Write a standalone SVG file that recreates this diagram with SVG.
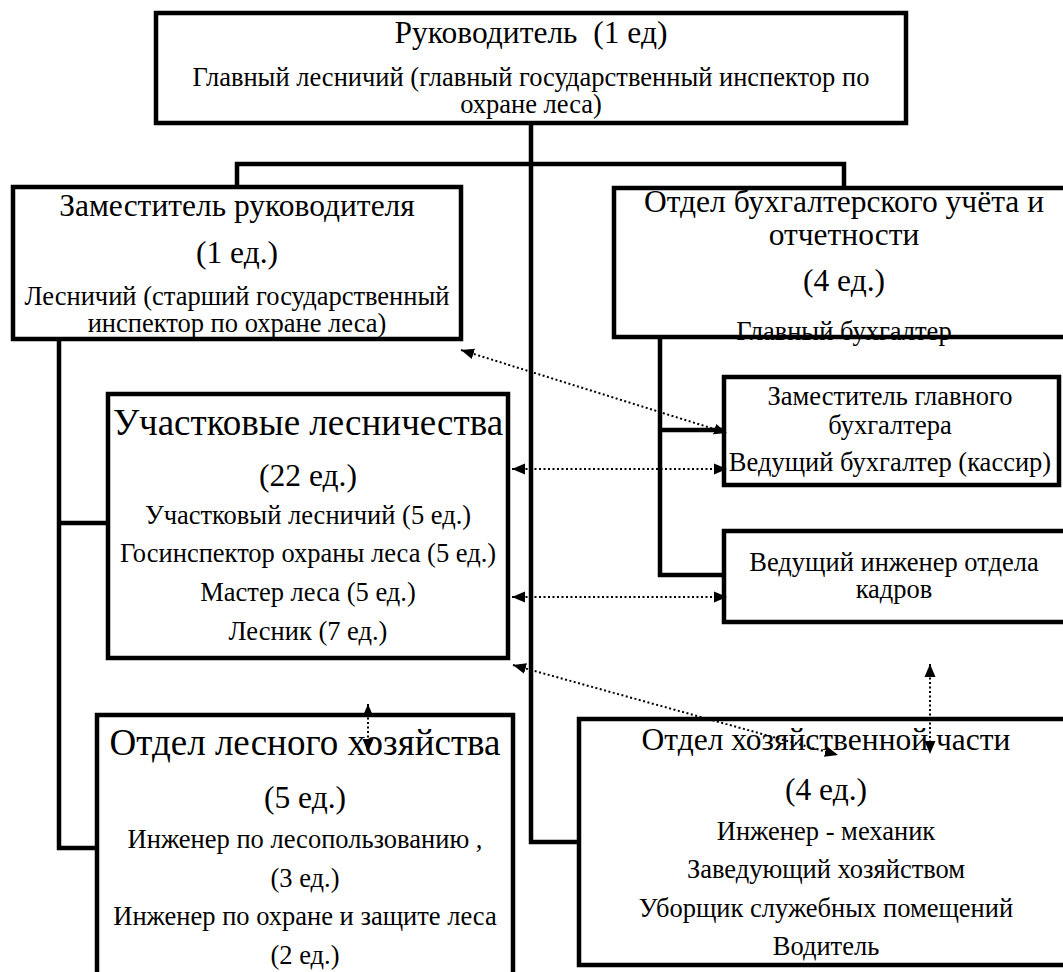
<svg xmlns="http://www.w3.org/2000/svg" width="1063" height="972" viewBox="0 0 1063 972">
<style>
  text { font-family: "Liberation Serif", "Times New Roman", "DejaVu Serif", serif; fill: #000; text-anchor: middle; }
  .h { font-size: 31.5px; }
  .hb { font-size: 37px; }
  .d { font-size: 26.5px; }
  .box { fill: #fff; stroke: #000; stroke-width: 4.5; }
  .edge { fill: none; stroke: #000; stroke-width: 4.5; stroke-linejoin: miter; }
  .dot { fill: none; stroke: #000; stroke-width: 2; stroke-dasharray: 2 2.5; marker-start: url(#ah); marker-end: url(#ah); }
</style>
<defs>
  <marker id="ah" markerUnits="userSpaceOnUse" markerWidth="14" markerHeight="14" viewBox="0 0 14 14" refX="13" refY="7" orient="auto-start-reverse">
    <path d="M0,1.5 L13,7 L0,12.5 Z" fill="#000"/>
  </marker>
</defs>

<g id="director">
  <rect class="box" x="156" y="13" width="750" height="110"/>
  <text class="h" x="531" y="43" style="white-space:pre">Руководитель  (1 ед)</text>
  <text class="d" x="531" y="86">Главный лесничий (главный государственный инспектор по</text>
  <text class="d" x="531" y="113">охране леса)</text>
</g>

<g id="deputy">
  <rect class="box" x="13" y="187" width="448" height="152"/>
  <text class="h" x="237" y="216">Заместитель руководителя</text>
  <text class="h" x="237" y="263">(1 ед.)</text>
  <text class="d" x="237" y="305">Лесничий (старший государственный</text>
  <text class="d" x="237" y="332">инспектор по охране леса)</text>
</g>

<g id="accounting">
  <rect x="614" y="188" width="460" height="149" fill="#fff"/>
  <text class="h" x="844" y="212">Отдел бухгалтерского учёта и</text>
  <text class="h" x="844" y="245">отчетности</text>
  <text class="h" x="844" y="291">(4 ед.)</text>
  <text class="d" x="844" y="340">Главный бухгалтер</text>
  <rect x="614" y="188" width="460" height="149" fill="none" stroke="#000" stroke-width="4.5"/>
</g>

<g id="deputy-accountant">
  <rect class="box" x="724" y="377" width="335" height="108"/>
  <text class="d" x="890" y="405">Заместитель главного</text>
  <text class="d" x="890" y="434">бухгалтера</text>
  <text class="d" x="890" y="471">Ведущий бухгалтер (кассир)</text>
</g>

<g id="hr">
  <rect class="box" x="724" y="531" width="350" height="91"/>
  <text class="d" x="894" y="571">Ведущий инженер отдела</text>
  <text class="d" x="894" y="598">кадров</text>
</g>

<g id="forestries">
  <rect class="box" x="108" y="394" width="400" height="264"/>
  <text class="hb" x="308" y="435">Участковые лесничества</text>
  <text class="h" x="308" y="486">(22 ед.)</text>
  <text class="d" x="308" y="524">Участковый лесничий (5 ед.)</text>
  <text class="d" x="308" y="562">Госинспектор охраны леса (5 ед.)</text>
  <text class="d" x="308" y="601">Мастер леса (5 ед.)</text>
  <text class="d" x="308" y="640">Лесник (7 ед.)</text>
</g>

<g id="forestry-dept">
  <rect class="box" x="97" y="715" width="416" height="275"/>
  <text class="hb" x="305" y="755">Отдел лесного хозяйства</text>
  <text class="h" x="305" y="808">(5 ед.)</text>
  <text class="d" x="305" y="848">Инженер по лесопользованию ,</text>
  <text class="d" x="305" y="887">(3 ед.)</text>
  <text class="d" x="305" y="925">Инженер по охране и защите леса</text>
  <text class="d" x="305" y="964">(2 ед.)</text>
</g>

<g id="household">
  <rect class="box" x="579" y="719" width="495" height="246"/>
  <text class="h" x="826" y="750">Отдел хозяйственной части</text>
  <text class="h" x="826" y="800">(4 ед.)</text>
  <text class="d" x="826" y="840">Инженер - механик</text>
  <text class="d" x="826" y="878">Заведующий хозяйством</text>
  <text class="d" x="826" y="917">Уборщик служебных помещений</text>
  <text class="d" x="826" y="955">Водитель</text>
</g>

<g id="connectors">
  <path class="edge" d="M531,123 V842 H579"/>
  <path class="edge" d="M237,187 V164 H844 V188"/>
  <path class="edge" d="M59,339 V848 H97"/>
  <path class="edge" d="M59,523 H108"/>
  <path class="edge" d="M660,337 V575 H724"/>
  <path class="edge" d="M660,430 H724"/>
  <line class="dot" x1="461" y1="350" x2="727" y2="433"/>
  <line class="dot" x1="512" y1="469" x2="727" y2="469"/>
  <line class="dot" x1="512" y1="597" x2="727" y2="597"/>
  <line class="dot" x1="513" y1="665" x2="838" y2="755"/>
  <line class="dot" x1="930" y1="664" x2="930" y2="754"/>
  <line class="dot" x1="368" y1="704" x2="368" y2="752"/>
</g>
</svg>
